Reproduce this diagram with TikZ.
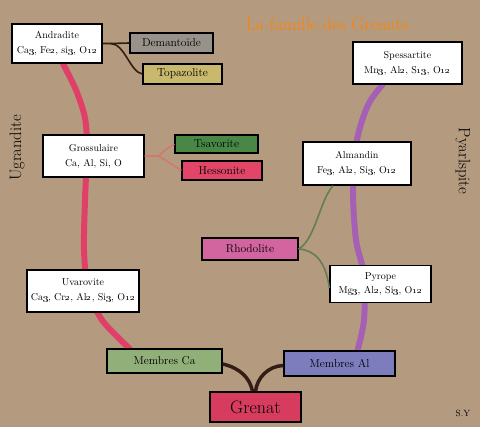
\documentclass[tikz,border=0pt]{standalone}
\usepackage{xcolor}
\usepackage{tikz}
\usetikzlibrary{positioning}
\definecolor{bgtan}{RGB}{180,155,127}
\definecolor{ugrpink}{RGB}{224,64,104}
\definecolor{pyrpurple}{RGB}{165,95,180}
\definecolor{twigbrown}{RGB}{50,30,20}
\definecolor{twigpink}{RGB}{210,120,115}
\definecolor{twiggreen}{RGB}{100,125,85}
\definecolor{titleorange}{RGB}{255,130,0}
\definecolor{demgray}{RGB}{152,146,138}
\definecolor{topkhaki}{RGB}{200,185,110}
\definecolor{tsagreen}{RGB}{72,135,70}
\definecolor{hesred}{RGB}{225,70,105}
\definecolor{rhopink}{RGB}{210,100,160}
\definecolor{cagreen}{RGB}{145,175,120}
\definecolor{alblue}{RGB}{125,125,190}
\definecolor{grenatred}{RGB}{215,60,95}
\pgfdeclarelayer{bg}
\pgfsetlayers{bg,main}
\newcommand{\onum}[1]{\oldstylenums{#1}}
\tikzset{
  mineral/.style={rectangle, draw=black, fill=white, line width=1.3pt,
    align=center, inner sep=0pt, font=\fontsize{10}{12}\selectfont},
  variety/.style={rectangle, draw=black, line width=1.3pt,
    align=center, inner sep=0pt, minimum height=20, font=\fontsize{11.5}{13}\selectfont},
  branch/.style={line width=6pt, line cap=round},
  twig/.style={line width=1.6pt},
  joint/.style={line width=3.5pt, color=twigbrown},
  side/.style={font=\fontsize{16.5}{18}\selectfont}
}

\begin{document}
\begin{tikzpicture}[x=1pt, y=-1pt]

  % Background
  \begin{pgfonlayer}{bg}
    \fill[bgtan] (0,0) rectangle (480,427);
  \end{pgfonlayer}
  \useasboundingbox (0,0) rectangle (480,427);

  % Titles
  \node[font=\fontsize{18}{20}\selectfont, text=titleorange] (title) at (327,24) {La famille des Grenats};
  \node[side, rotate=90] (ugrandite) at (17,148) {Ugrandite};
  \node[side, rotate=-90] (pyralspite) at (463,161) {Pyarlspite};
  \node[font=\small] (sign) at (463,413) {S.Y};

  % Ugrandite side
  \node[mineral, minimum width=90, minimum height=39] (andradite) at (57,43.5)
    {Andradite\\[3pt]Ca\onum{3}, Fe\onum{2}, si\onum{3}, O\onum{12}};
  \node[variety, fill=demgray, minimum width=83] (demantoide) at (171.5,43) {Demanto\"ide};
  \node[variety, fill=topkhaki, minimum width=79] (topazolite) at (182.5,74) {Topazolite};
  \node[mineral, minimum width=101, minimum height=42] (grossulaire) at (93.5,156)
    {Grossulaire\\[3pt]Ca, Al, Si, O};
  \node[variety, fill=tsagreen, minimum width=83, minimum height=18] (tsavorite) at (216.5,144) {Tsavorite};
  \node[variety, fill=hesred, minimum width=80, minimum height=19] (hessonite) at (222,170.5) {Hessonite};
  \node[mineral, minimum width=112, minimum height=42] (uvarovite) at (83,291)
    {Uvarovite\\[3pt]Ca\onum{3}, Cr\onum{2}, Al\onum{2}, Si\onum{3}, O\onum{12}};
  \node[variety, fill=cagreen, minimum width=115, minimum height=24] (membresca) at (164.5,361) {Membres Ca};

  % Pyralspite side
  \node[mineral, minimum width=109, minimum height=42] (spessartite) at (407.5,63)
    {Spessartite\\[3pt]Mn\onum{3}, Al\onum{2}, S\onum{13}, O\onum{12}};
  \node[mineral, minimum width=108, minimum height=43] (almandin) at (357,163.5)
    {Almandin\\[3pt]Fe\onum{3}, Al\onum{2}, Si\onum{3}, O\onum{12}};
  \node[variety, fill=rhopink, minimum width=96, minimum height=22] (rhodolite) at (250,249) {Rhodolite};
  \node[mineral, minimum width=101, minimum height=37] (pyrope) at (380.5,284)
    {Pyrope\\[2pt]Mg\onum{3}, Al\onum{2}, Si\onum{3}, O\onum{12}};
  \node[variety, fill=alblue, minimum width=111, minimum height=25] (membresal) at (339.5,363.5) {Membres Al};

  % Root
  \node[variety, fill=grenatred, minimum width=91, minimum height=30,
    font=\fontsize{18}{20}\selectfont] (grenat) at (255.5,407) {Grenat};

  % Branches
  \begin{pgfonlayer}{bg}
    \draw[branch, ugrpink] plot[smooth] coordinates {([xshift=6]andradite.south) (76,90) (85,118)
      (87,150) (85,200) (84,250) (88,288) (102,320) ([xshift=23]membresca.north west)};
    \draw[branch, pyrpurple] plot[smooth] coordinates {([xshift=-25]spessartite.south) (368,105) (357,140)
      (353,190) (356,240) (364,275) (364,320) ([xshift=18]membresal.north)};
  \end{pgfonlayer}

  % Connections
  \draw[twig, twigbrown] (andradite.east) -- ++(8,0) coordinate (splitA) -- (demantoide.west);
  \draw[twig, twigbrown] (splitA) .. controls (125,44) and (130,72) .. (topazolite.west);
  \draw[twig, twigpink] (grossulaire.east) -- ++(14,0) coordinate (splitG)
    .. controls (165,150) .. (tsavorite.west);
  \draw[twig, twigpink] (splitG) .. controls (168,162) .. (hessonite.west);
  \draw[twig, twiggreen] (rhodolite.east) .. controls (315,240) and (320,200) .. ([xshift=-24]almandin.south);
  \draw[twig, twiggreen] (rhodolite.east) .. controls (315,250) and (326,262) .. ([yshift=-4]pyrope.west);
  \draw[joint] ([yshift=-3]membresca.east) .. controls (240,368) and (250,378) .. ([xshift=-3]grenat.north);
  \draw[joint] ([yshift=-2]membresal.west) .. controls (268,366) and (257,378) .. ([xshift=0]grenat.north);
\end{tikzpicture}
\end{document}
